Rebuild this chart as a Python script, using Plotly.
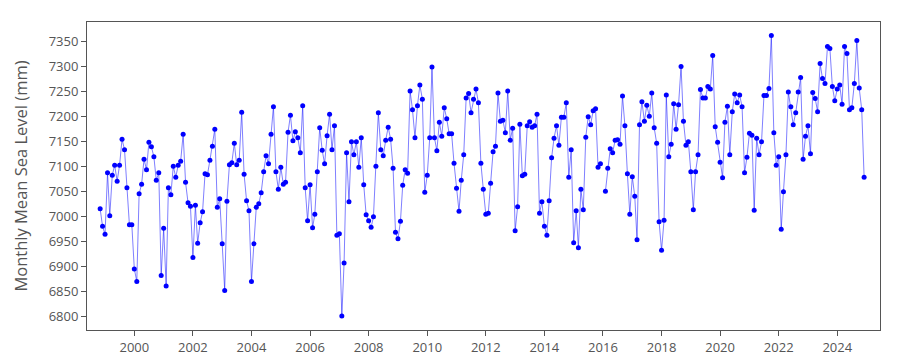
import pandas as pd
import plotly.graph_objects as go

start_month = "1998-11-01"
end_month = "2024-12-01"

sea_level_mm = [
    7015, 6980, 6964, 7087, 7001, 7082, 7102, 7070, 7102, 7154, 7133, 7057, 6983, 6983, 6895, 6870, 7045, 7064, 7114, 7093, 7148, 7139, 7119, 7072, 7087, 6882, 6976, 6861, 7057,
    7043, 7100, 7078, 7102, 7110, 7164, 7068, 7027, 7020, 6918, 7022, 6946, 6987, 7009, 7085, 7083, 7112, 7140, 7174, 7018, 7035, 6945, 6852, 7030, 7103, 7107, 7146, 7103,
    7112, 7208, 7084, 7031, 7011, 6870, 6945, 7018, 7025, 7047, 7089, 7121, 7105, 7164, 7219, 7089, 7054, 7098, 7064, 7068, 7168, 7202, 7151, 7169, 7157, 7127, 7221, 7057, 6991,
    7063, 6977, 7004, 7089, 7177, 7132, 7105, 7161, 7204, 7133, 7181, 6962, 6965, 6801, 6907, 7127, 7029, 7149, 7123, 7149, 7098, 7157, 7063, 7003, 6991, 6978, 6999, 7100, 7207,
    7133, 7121, 7152, 7178, 7154, 7096, 6968, 6955, 6990, 7062, 7093, 7086, 7250, 7213, 7157, 7221, 7262, 7234, 7048, 7082, 7157, 7298, 7157, 7131, 7188, 7160, 7217, 7195,
    7165, 7165, 7106, 7056, 7010, 7072, 7123, 7236, 7245, 7207, 7234, 7254, 7227, 7106, 7054, 7004, 7006, 7066, 7129, 7140, 7246, 7190, 7192, 7167, 7250, 7152, 7176, 6971, 7019,
    7184, 7081, 7084, 7181, 7189, 7178, 7181, 7204, 7006, 7029, 6980, 6962, 7031, 7117, 7156, 7181, 7142, 7198, 7198, 7227, 7078, 7133, 6947, 7011, 6937, 7054, 7013, 7158, 7199,
    7183, 7211, 7215, 7098, 7105, None, 7050, 7096, 7135, 7127, 7152, 7153, 7144, 7240, 7181, 7085, 7004, 7079, 7040, 6953, 7183, 7229, 7190, 7222, 7200, 7246, 7177, 7146,
    6989, 6932, 6992, 7242, 7119, 7144, 7225, 7174, 7223, 7299, 7190, 7142, 7149, 7089, 7013, 7089, 7123, 7253, 7236, 7236, 7259, 7254, 7321, 7179, 7148, 7108, 7077, 7188, 7220,
    7123, 7209, 7244, 7227, 7242, 7219, 7087, 7118, 7166, 7162, 7012, 7156, 7123, 7149, 7241, 7241, 7255, 7361, 7167, 7102, 7119, 6974, 7049, 7123, 7248, 7219, 7183, 7207,
    7248, 7277, 7114, 7160, 7181, 7125, 7247, 7235, 7209, 7305, 7275, 7265, 7339, 7335, 7259, 7231, 7254, 7262, 7224, 7339, 7325, 7213, 7217, 7265, 7351, 7256, 7213, 7078,
]

months = pd.date_range(start_month, end_month, freq="MS")
assert len(months) == len(sea_level_mm), (len(months), len(sea_level_mm))

x_tick_years = list(range(2000, 2025, 2))
x_tick_dates = [f"{y}-01-01" for y in x_tick_years]
x_tick_labels = [str(y) for y in x_tick_years]

fig = go.Figure()
fig.add_trace(go.Scatter(
    x=months, y=sea_level_mm, mode="lines+markers",
    connectgaps=False,
    line=dict(color="rgba(0,0,255,0.5)", width=1),
    marker=dict(color="#0000ff", size=5),
    showlegend=False,
))

axis_common = dict(
    showline=True, linecolor="#555555", linewidth=1, mirror=True,
    ticks="outside", ticklen=5, tickcolor="#555555",
    showgrid=False, zeroline=False,
    tickfont=dict(family="Open Sans, DejaVu Sans, sans-serif", size=13, color="#555555"),
)

fig.update_layout(
    width=900, height=360,
    margin=dict(l=79, r=28, t=14, b=25),
    paper_bgcolor="white", plot_bgcolor="white",
    xaxis=dict(type="date", range=["1998-05-21", "2025-06-17"],
               tickvals=x_tick_dates, ticktext=x_tick_labels, **axis_common),
    yaxis=dict(range=[6773, 7388], tick0=6800, dtick=50,
               title=dict(text="Monthly Mean Sea Level (mm)", standoff=16,
                          font=dict(family="Open Sans, DejaVu Sans, sans-serif", size=16.5, color="#555555")),
               **axis_common),
)

fig.write_html("out.html")
